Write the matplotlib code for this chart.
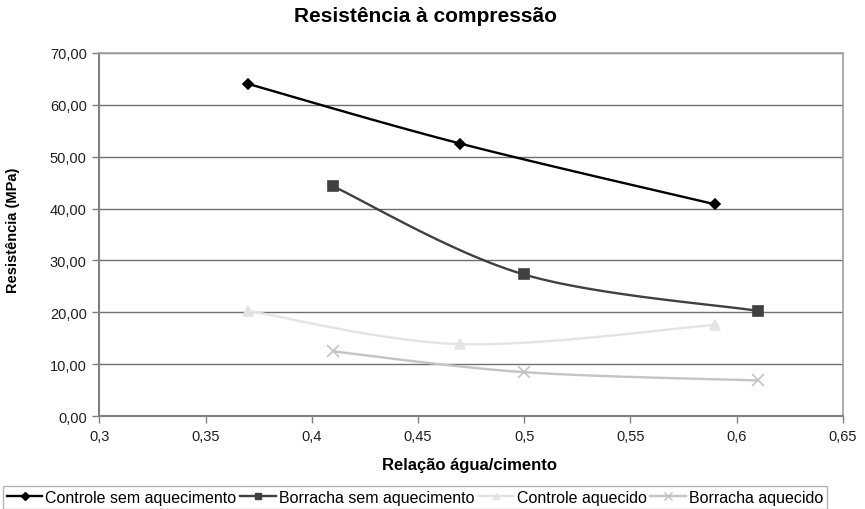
import numpy as np
import matplotlib
matplotlib.use("Agg")
import matplotlib.pyplot as plt
from matplotlib.ticker import FuncFormatter, MultipleLocator

plt.rcParams['font.family'] = ['Liberation Sans', 'DejaVu Sans']

# Compressive strength data
x_controle_sem = [0.37, 0.47, 0.59]
y_controle_sem = [64.0, 52.5, 40.8]

x_borracha_sem = [0.41, 0.50, 0.61]
y_borracha_sem = [44.3, 27.3, 20.3]

x_controle_aq = [0.37, 0.47, 0.59]
y_controle_aq = [20.3, 13.9, 17.6]

x_borracha_aq = [0.41, 0.50, 0.61]
y_borracha_aq = [12.5, 8.5, 6.9]

labels = ["Controle sem aquecimento", "Borracha sem aquecimento",
          "Controle aquecido", "Borracha aquecido"]


def smooth(xs, ys, n=60):
    """Smoothed line through the points using cubic Bezier segments
    with Catmull-Rom style control points."""
    pts = np.column_stack([xs, ys]).astype(float)
    m = len(pts)
    out = [pts[0]]
    t = np.linspace(0, 1, n)[1:, None]
    for i in range(m - 1):
        p0 = pts[i - 1] if i > 0 else pts[i]
        p1 = pts[i]
        p2 = pts[i + 1]
        p3 = pts[i + 2] if i + 2 < m else pts[i + 1]
        c1 = p1 + (p2 - p0) / 6.0
        c2 = p2 - (p3 - p1) / 6.0
        seg = ((1 - t) ** 3) * p1 + 3 * ((1 - t) ** 2) * t * c1 \
            + 3 * (1 - t) * t ** 2 * c2 + t ** 3 * p2
        out.extend(seg)
    out = np.array(out)
    return out[:, 0], out[:, 1]


W, H = 865, 510
fig = plt.figure(figsize=(W / 100, H / 100), dpi=100)
ax = fig.add_axes([99.3 / W, 1 - 417.3 / H, 743.4 / W, 363.6 / H])

series = [
    (x_controle_sem, y_controle_sem, "#000000", "D", 5.5),
    (x_borracha_sem, y_borracha_sem, "#404040", "s", 6.5),
    (x_controle_aq, y_controle_aq, "#e4e4e4", "^", 7),
    (x_borracha_aq, y_borracha_aq, "#c4c4c4", "x", 8),
]

handles = []
for (xs, ys, col, mk, ms), lab in zip(series, labels):
    sx, sy = smooth(xs, ys)
    ax.plot(sx, sy, color=col, lw=1.7, solid_capstyle='round', zorder=3)
    ax.plot(xs, ys, ls='none', marker=mk, ms=ms, color=col,
            markeredgecolor=col, markeredgewidth=1.2, zorder=4)
    h, = ax.plot([], [], color=col, lw=1.7, marker=mk, ms=ms * 0.7,
                 markeredgecolor=col, markerfacecolor=col, label=lab)
    handles.append(h)

ax.set_xlim(0.3, 0.65)
ax.set_ylim(0, 70)
ax.xaxis.set_major_locator(MultipleLocator(0.05))
ax.yaxis.set_major_locator(MultipleLocator(10))


def fmt_x(v, pos):
    s = f"{v:.2f}".rstrip('0').rstrip('.')
    return s.replace('.', ',')


ax.xaxis.set_major_formatter(FuncFormatter(fmt_x))
ax.yaxis.set_major_formatter(FuncFormatter(lambda v, p: f"{v:.2f}".replace('.', ',')))

ax.grid(axis='y', color='#707070', lw=1)
ax.set_axisbelow(True)
for side in ['top', 'right']:
    ax.spines[side].set_color('#a0a0a0')
    ax.spines[side].set_linewidth(1.2)
for side in ['left', 'bottom']:
    ax.spines[side].set_color('#808080')
    ax.spines[side].set_linewidth(1.5)

ax.tick_params(axis='both', direction='out', length=5, width=1,
               color='#808080', labelsize=10.5, labelcolor='#202020', pad=4)

fig.text(426 / W, 1 - 22 / H, "Resistência à compressão", fontsize=15,
         fontweight='bold', ha='center', va='baseline')
fig.text(470 / W, 1 - 470 / H, "Relação água/cimento", fontsize=12,
         fontweight='bold', ha='center', va='baseline')
fig.text(13 / W, 1 - 230 / H, "Resistência (MPa)", fontsize=10.5,
         fontweight='bold', ha='center', va='center', rotation=90)

leg = fig.legend(handles=handles, loc='upper left',
                 bbox_to_anchor=(3 / W, 1 - 487 / H),
                 ncol=4, frameon=True, fancybox=False, fontsize=11.5,
                 handlelength=2.2, handletextpad=0.2, columnspacing=0.25,
                 borderpad=0.25, borderaxespad=0)
leg.get_frame().set_edgecolor('#a0a0a0')
leg.get_frame().set_linewidth(1)

fig.savefig("out.png", dpi=100)
